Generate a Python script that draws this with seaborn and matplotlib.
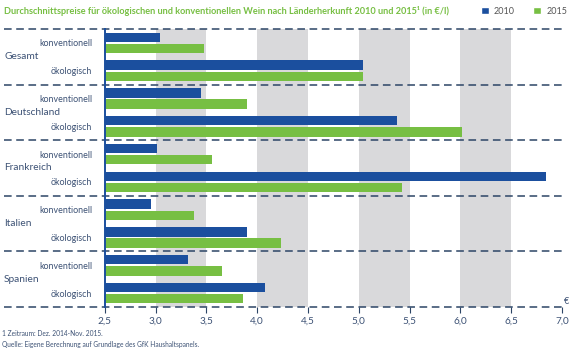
import numpy as np
import pandas as pd
import matplotlib
matplotlib.use('Agg')
import matplotlib.pyplot as plt
import seaborn as sns
from matplotlib.patches import Patch
from matplotlib.transforms import blended_transform_factory

# Daten (Preise in €/l)
laender = ['Gesamt', 'Deutschland', 'Frankreich', 'Italien', 'Spanien']
arten = ['konventionell', 'ökologisch']
jahre = ['2010', '2015']
preis_2010 = [3.04, 5.04, 3.45, 5.38, 3.01, 6.84, 2.96, 3.90, 3.32, 4.08]
preis_2015 = [3.48, 5.04, 3.90, 6.02, 3.56, 5.43, 3.38, 4.23, 3.65, 3.86]
x_ticks = [2.5, 3.0, 3.5, 4.0, 4.5, 5.0, 5.5, 6.0, 6.5, 7.0]

blau = '#1b4f9e'
gruen = '#77bf43'
grau = '#d9d9db'
dunkel = '#2c4566'
textfarbe = '#3d5275'

sns.set_style('white')
plt.rcParams['font.family'] = ['Lato', 'DejaVu Sans']

zeilen = [f'{land}|{art}' for land in laender for art in arten]
df = pd.DataFrame({
    'zeile': zeilen * 2,
    'preis': preis_2010 + preis_2015,
    'jahr': [jahre[0]] * len(zeilen) + [jahre[1]] * len(zeilen),
})

fig = plt.figure(figsize=(5.76, 3.52), dpi=100)
ax = fig.add_axes([104.7 / 576, 1 - 307 / 352, (562 - 104.7) / 576, 278 / 352])

# graue Bänder
for start in [3.0, 4.0, 5.0, 6.0]:
    ax.axvspan(start, start + 0.5, color=grau, lw=0, zorder=0)

sns.barplot(data=df, x='preis', y='zeile', hue='jahr', orient='h',
            palette=[blau, gruen], saturation=1, width=0.8, gap=0.15,
            linewidth=0, legend=False, ax=ax, zorder=2)

ax.set_xlim(2.5, 7.0)
ax.set_ylim(9.5, -0.5)
ax.set_xlabel('')
ax.set_ylabel('')
ax.set_xticks(x_ticks)
ax.set_xticklabels([f'{t:.1f}'.replace('.', ',') for t in x_ticks])
ax.tick_params(axis='x', length=4, width=0.8, color=dunkel, labelsize=7.2,
               labelcolor=textfarbe, pad=3, bottom=True)
ax.set_yticks(range(len(zeilen)))
ax.set_yticklabels([z.split('|')[1] for z in zeilen])
ax.tick_params(axis='y', length=0, labelsize=6.4, labelcolor=textfarbe, pad=9)

for side in ['top', 'right', 'bottom']:
    ax.spines[side].set_visible(False)
ax.spines['left'].set_color(blau)
ax.spines['left'].set_linewidth(1.4)
ax.spines['left'].set_zorder(4)

# gestrichelte Trennlinien
for y in [-0.5, 1.5, 3.5, 5.5, 7.5, 9.5]:
    ax.axhline(y, xmin=-0.22, xmax=1.0, color=dunkel, lw=1.1,
               ls=(0, (5, 3)), clip_on=False, zorder=3)

# Länderbeschriftung
trans = blended_transform_factory(ax.transAxes, ax.transData)
for i, land in enumerate(laender):
    ax.text(-0.22, 2 * i + 0.5, land, transform=trans, ha='left', va='center',
            fontsize=7.3, color=textfarbe)

fig.text(567 / 576, 1 - 302 / 352, '€', fontsize=6.5, color=textfarbe,
         ha='center', va='center')

fig.text(4 / 576, 1 - 11 / 352,
         'Durchschnittspreise für ökologischen und konventionellen Wein nach '
         'Länderherkunft 2010 und 2015¹ (in €/l)',
         fontsize=6.6, fontweight='bold', color=gruen, ha='left', va='center')

handles = [Patch(facecolor=blau, label=jahre[0]), Patch(facecolor=gruen, label=jahre[1])]
fig.legend(handles=handles, loc='center right', bbox_to_anchor=(1.0, 1 - 11 / 352),
           ncol=2, frameon=False, fontsize=6.5, handlelength=0.85, handleheight=0.85,
           handletextpad=0.6, columnspacing=2.0, borderaxespad=0.6,
           labelcolor='#555555')

fig.text(2 / 576, 1 - 334 / 352, '1 Zeitraum: Dez. 2014-Nov. 2015.',
         fontsize=4.8, color=textfarbe, ha='left', va='center')
fig.text(2 / 576, 1 - 344 / 352,
         'Quelle: Eigene Berechnung auf Grundlage des GfK Haushaltspanels.',
         fontsize=4.8, color=textfarbe, ha='left', va='center')

fig.savefig('out.png', dpi=100)
